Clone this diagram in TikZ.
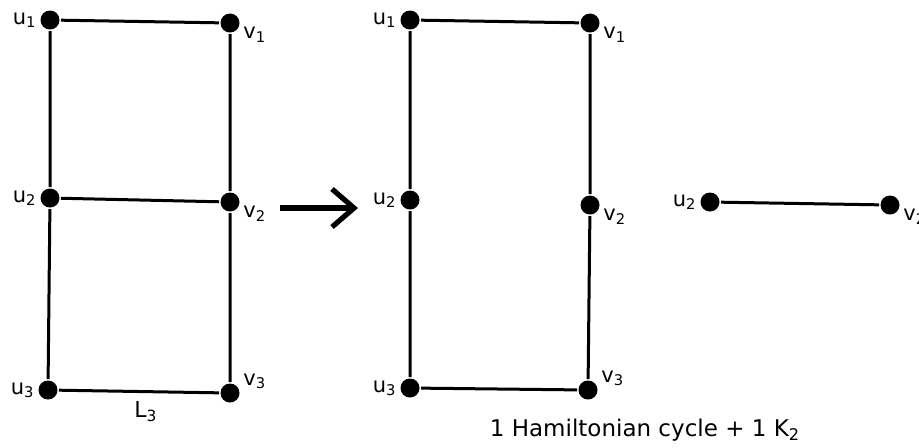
\documentclass[tikz,border=0pt]{standalone}
\usepackage{fontspec}
\setmainfont{DejaVu Sans}
\usetikzlibrary{arrows.meta}

\begin{document}
\begin{tikzpicture}[x=0.5pt, y=-0.5pt, line width=1.5pt,
    dot/.style={circle, fill, inner sep=0pt, minimum size=9.5pt},
    lbl/.style={font=\fontsize{10.5}{12}\selectfont, inner sep=0.5pt}]
    \useasboundingbox (0,0) rectangle (919,447);
    % L_3
    \node[dot, label={[lbl]left:u\textsubscript{1}}] (Au1) at (50,20) {};
    \node[dot, label={[lbl]-10:v\textsubscript{1}}] (Av1) at (230,23) {};
    \node[dot, label={[lbl]left:u\textsubscript{2}}] (Au2) at (50,198) {};
    \node[dot, label={[lbl]-10:v\textsubscript{2}}] (Av2) at (230,202) {};
    \node[dot, label={[lbl]left:u\textsubscript{3}}] (Au3) at (48,390) {};
    \node[dot, label={[lbl]10:v\textsubscript{3}}] (Av3) at (230,393) {};
    \draw (Au1) -- (Av1) -- (Av2) -- (Av3) -- (Au3) -- (Au2) -- (Au1);
    \draw (Au2) -- (Av2);
    \node[lbl, font=\fontsize{11}{13}\selectfont] (Lname) at (146,412) {L\textsubscript{3}};
    % arrow
    \coordinate (arrS) at (280,208);
    \coordinate (arrE) at (358,208);
    \draw[line width=2.6pt, -{Straight Barb[length=11pt, width=19pt]}] (arrS) -- (arrE);
    % cycle
    \node[dot, label={[lbl]left:u\textsubscript{1}}] (Bu1) at (410,20) {};
    \node[dot, label={[lbl]-10:v\textsubscript{1}}] (Bv1) at (590,23) {};
    \node[dot, label={[lbl]left:u\textsubscript{2}}] (Bu2) at (410,200) {};
    \node[dot, label={[lbl]-10:v\textsubscript{2}}] (Bv2) at (590,205) {};
    \node[dot, label={[lbl]left:u\textsubscript{3}}] (Bu3) at (410,388) {};
    \node[dot, label={[lbl]10:v\textsubscript{3}}] (Bv3) at (588,390) {};
    \draw (Bu1) -- (Bv1) -- (Bv2) -- (Bv3) -- (Bu3) -- (Bu2) -- (Bu1);
    % K_2
    \node[dot, label={[lbl]left:u\textsubscript{2}}] (Cu2) at (710,202) {};
    \node[dot, label={[lbl]-10:v\textsubscript{2}}] (Cv2) at (890,205) {};
    \draw (Cu2) -- (Cv2);
    \node[lbl, font=\fontsize{11.5}{13}\selectfont] (caption) at (645,430) {1 Hamiltonian cycle + 1 K\textsubscript{2}};
\end{tikzpicture}
\end{document}
